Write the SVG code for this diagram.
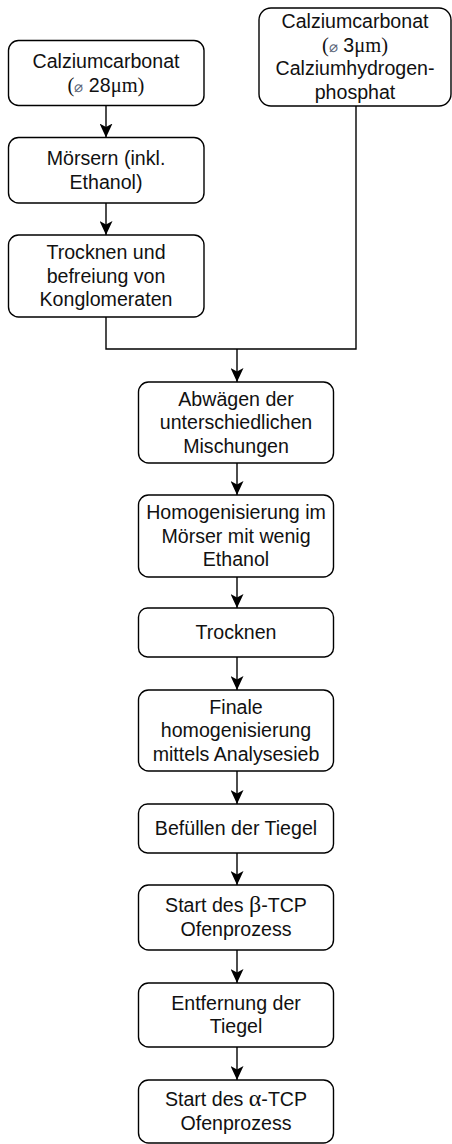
<svg xmlns="http://www.w3.org/2000/svg" width="452" height="1144" viewBox="0 0 452 1144">
<style>
.box{fill:#fff;stroke:#000;stroke-width:1.4}
.t{font-family:"Liberation Sans",Arial,sans-serif;font-size:19.6px;fill:#111;text-anchor:middle}
.s{font-family:"Liberation Serif","Times New Roman",serif;font-size:20.5px}
.g{font-size:15px;fill:#5a6578}
.gr{font-family:"Liberation Serif","Times New Roman",serif;font-size:24px}
.c{fill:none;stroke:#000;stroke-width:1.4}
</style>
<defs>
<marker id="arr" markerUnits="userSpaceOnUse" viewBox="0 0 14 13" markerWidth="14" markerHeight="13" refX="14" refY="6.5" orient="auto">
<path d="M0,0 L14,6.5 L0,13 L3.5,6.5 Z" fill="#000"/>
</marker>
</defs>
<rect width="452" height="1144" fill="#fff"/>
<g id="connectors">
<path class="c" d="M106,105.5 V137.5" marker-end="url(#arr)"/>
<path class="c" d="M106,203 V235" marker-end="url(#arr)"/>
<path class="c" d="M106,317 V349 H356 V106"/>
<path class="c" d="M237,349 V382" marker-end="url(#arr)"/>
<path class="c" d="M237,463 V495" marker-end="url(#arr)"/>
<path class="c" d="M237,577 V608" marker-end="url(#arr)"/>
<path class="c" d="M237,657 V690" marker-end="url(#arr)"/>
<path class="c" d="M237,771 V804" marker-end="url(#arr)"/>
<path class="c" d="M237,853 V885" marker-end="url(#arr)"/>
<path class="c" d="M237,950 V983" marker-end="url(#arr)"/>
<path class="c" d="M237,1047 V1080" marker-end="url(#arr)"/>
</g>
<g id="n1">
<rect class="box" x="8.5" y="40.5" width="195.5" height="65" rx="10"/>
<text class="t" x="106" y="68.3">Calziumcarbonat</text>
<text class="t" x="106" y="91.8"><tspan class="s">(</tspan><tspan class="g">⌀</tspan> 28<tspan class="s">μm)</tspan></text>
</g>
<g id="nR">
<rect class="box" x="259" y="8" width="192" height="98" rx="12"/>
<text class="t" x="355" y="28.3">Calziumcarbonat</text>
<text class="t" x="355" y="51.8"><tspan class="s">(</tspan><tspan class="g">⌀</tspan> 3<tspan class="s">μm)</tspan></text>
<text class="t" x="355" y="75.3">Calziumhydrogen-</text>
<text class="t" x="355" y="98.8">phosphat</text>
</g>
<g id="n2">
<rect class="box" x="8.5" y="137.5" width="195.5" height="65.5" rx="10"/>
<text class="t" x="106" y="165.3">Mörsern (inkl.</text>
<text class="t" x="106" y="188.8">Ethanol)</text>
</g>
<g id="n3">
<rect class="box" x="8.5" y="235" width="195.5" height="82" rx="10"/>
<text class="t" x="106" y="259">Trocknen und</text>
<text class="t" x="106" y="282.5">befreiung von</text>
<text class="t" x="106" y="306">Konglomeraten</text>
</g>
<g id="n4">
<rect class="box" x="138.5" y="382" width="195" height="81" rx="10"/>
<text class="t" x="236" y="405.5">Abwägen der</text>
<text class="t" x="236" y="429">unterschiedlichen</text>
<text class="t" x="236" y="452.5">Mischungen</text>
</g>
<g id="n5">
<rect class="box" x="138.5" y="495" width="195" height="82" rx="10"/>
<text class="t" x="236" y="519">Homogenisierung im</text>
<text class="t" x="236" y="542.5">Mörser mit wenig</text>
<text class="t" x="236" y="566">Ethanol</text>
</g>
<g id="n6">
<rect class="box" x="138.5" y="608" width="195" height="49" rx="9"/>
<text class="t" x="236" y="639">Trocknen</text>
</g>
<g id="n7">
<rect class="box" x="138.5" y="690" width="195" height="81" rx="10"/>
<text class="t" x="236" y="713.5">Finale</text>
<text class="t" x="236" y="737">homogenisierung</text>
<text class="t" x="236" y="760.5">mittels Analysesieb</text>
</g>
<g id="n8">
<rect class="box" x="138.5" y="804" width="195" height="49" rx="9"/>
<text class="t" x="236" y="835">Befüllen der Tiegel</text>
</g>
<g id="n9">
<rect class="box" x="138.5" y="885" width="195" height="65" rx="10"/>
<text class="t" x="236" y="912.3">Start des <tspan class="gr">β</tspan>-TCP</text>
<text class="t" x="236" y="935.8">Ofenprozess</text>
</g>
<g id="n10">
<rect class="box" x="138.5" y="983" width="195" height="64" rx="10"/>
<text class="t" x="236" y="1009.8">Entfernung der</text>
<text class="t" x="236" y="1033.3">Tiegel</text>
</g>
<g id="n11">
<rect class="box" x="138.5" y="1080" width="195" height="63" rx="10"/>
<text class="t" x="236" y="1106.3">Start des <tspan class="gr">α</tspan>-TCP</text>
<text class="t" x="236" y="1129.8">Ofenprozess</text>
</g>
</svg>
